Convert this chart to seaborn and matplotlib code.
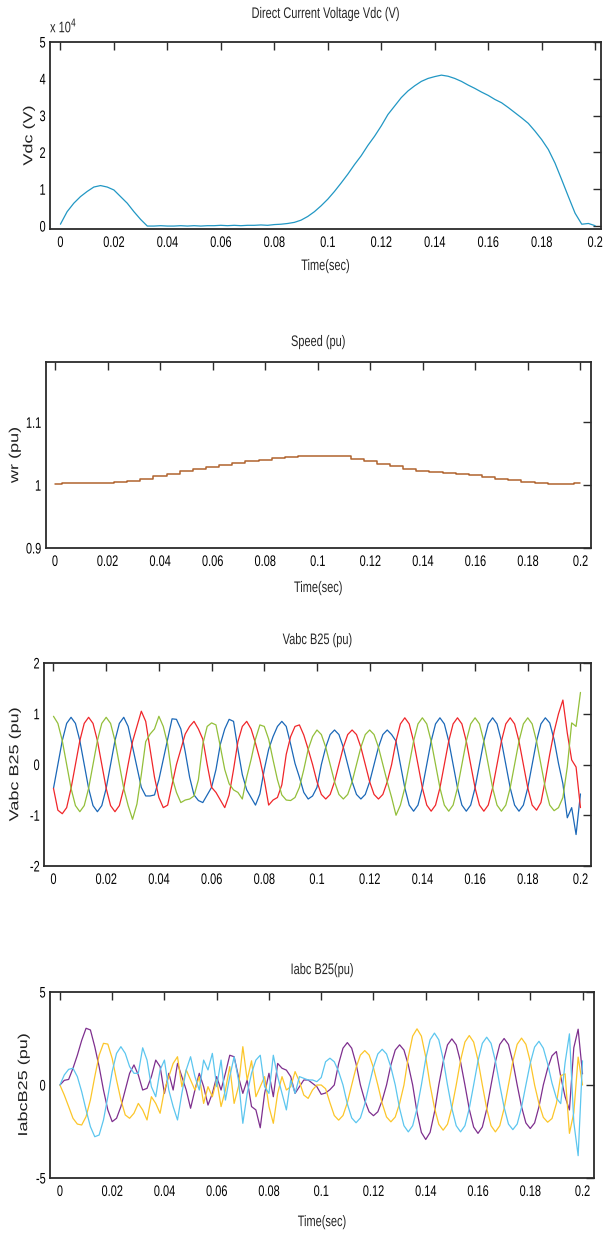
import numpy as np
import pandas as pd
import matplotlib
matplotlib.use("Agg")
import matplotlib.pyplot as plt
import seaborn as sns
from matplotlib.ticker import FuncFormatter, FixedLocator
from matplotlib.patheffects import AbstractPathEffect
from matplotlib.transforms import Affine2D

# ---------------- data ----------------
# Panel 1: DC voltage, sampled every 2.5 ms, in units of 1e4 V
vdc_step = 0.0025
vdc_1e4 = [0.05, 0.39, 0.62, 0.80, 0.94, 1.06, 1.10, 1.06, 0.98, 0.80,
           0.62, 0.39, 0.18, 0.0, 0.0, 0.01, 0.0, 0.0, 0.01, 0.0,
           0.01, 0.0, 0.01, 0.01, 0.02, 0.01, 0.02, 0.01, 0.02, 0.02,
           0.03, 0.02, 0.04, 0.05, 0.07, 0.10, 0.16, 0.26, 0.39, 0.55,
           0.73, 0.94, 1.17, 1.41, 1.67, 1.91, 2.19, 2.44, 2.72, 3.03,
           3.26, 3.49, 3.67, 3.81, 3.93, 4.01, 4.06, 4.10, 4.07, 4.01,
           3.93, 3.83, 3.74, 3.64, 3.55, 3.44, 3.35, 3.22, 3.08, 2.94,
           2.79, 2.58, 2.35, 2.08, 1.71, 1.26, 0.80, 0.35, 0.05, 0.07,
           0.01]

# Panel 2: rotor speed, sampled every 5 ms
speed_step = 0.005
speed_pu = [1.002, 1.004, 1.004, 1.004, 1.004, 1.005, 1.007, 1.010, 1.014, 1.018,
            1.022, 1.025, 1.029, 1.032, 1.035, 1.038, 1.040, 1.043, 1.045, 1.047,
            1.047, 1.047, 1.046, 1.042, 1.038, 1.034, 1.030, 1.026, 1.023, 1.021,
            1.020, 1.018, 1.016, 1.013, 1.010, 1.008, 1.005, 1.003, 1.002, 1.002,
            1.004]

# Panels 3 & 4: three-phase quantities sampled every 1/600 s
phase_step = 1.0 / 600.0
vabc_blue = [-0.47, 0.0, 0.47, 0.81, 0.93, 0.81, 0.47, 0.0, -0.47, -0.81, -0.93, -0.81,
             -0.47, 0.0, 0.47, 0.81, 0.93, 0.75, 0.35, -0.05, -0.45, -0.62, -0.62, -0.6,
             -0.3, 0.1, 0.5, 0.9, 0.89, 0.7, 0.25, -0.25, -0.6, -0.71, -0.75, -0.6,
             -0.45, -0.1, 0.4, 0.7, 0.89, 0.85, 0.3, -0.2, -0.5, -0.65, -0.8, -0.58,
             -0.1, 0.3, 0.55, 0.75, 0.85, 0.75, 0.4, 0.02, -0.25, -0.55, -0.68, -0.62,
             -0.45, 0.0, 0.34, 0.59, 0.68, 0.59, 0.34, 0.0, -0.34, -0.59, -0.68, -0.59,
             -0.34, 0.0, 0.34, 0.59, 0.68, 0.59, 0.46, 0.0, -0.46, -0.8, -0.92, -0.8,
             -0.46, 0.0, 0.46, 0.8, 0.92, 0.8, 0.46, 0.0, -0.46, -0.8, -0.92, -0.8,
             -0.46, 0.0, 0.46, 0.8, 0.92, 0.8, 0.46, 0.0, -0.46, -0.8, -0.92, -0.8,
             -0.46, 0.0, 0.46, 0.8, 0.92, 0.82, 0.49, 0.02, -0.38, -1.05, -0.85, -1.38,
             -0.58]
vabc_red = [-0.47, -0.9, -0.97, -0.85, -0.47, 0.0, 0.47, 0.81, 0.93, 0.81, 0.47, 0.0,
            -0.47, -0.81, -0.93, -0.81, -0.47, 0.0, 0.45, 0.75, 1.05, 0.85, 0.3, -0.25,
            -0.65, -0.85, -0.8, -0.4, 0.0, 0.3, 0.6, 0.75, 0.85, 0.7, 0.5, 0.0,
            -0.45, -0.55, -0.7, -0.85, -0.6, -0.1, 0.45, 0.75, 0.85, 0.7, 0.42, 0.1,
            -0.3, -0.8, -0.7, -0.65, -0.4, 0.2, 0.55, 0.75, 0.78, 0.58, 0.3, 0.0,
            -0.34, -0.59, -0.68, -0.59, -0.34, 0.0, 0.34, 0.59, 0.68, 0.59, 0.34, 0.0,
            -0.34, -0.59, -0.68, -0.59, -0.34, 0.0, 0.46, 0.8, 0.92, 0.8, 0.46, 0.0,
            -0.46, -0.8, -0.92, -0.8, -0.46, 0.0, 0.46, 0.8, 0.92, 0.8, 0.46, 0.0,
            -0.46, -0.8, -0.92, -0.8, -0.46, 0.0, 0.46, 0.8, 0.92, 0.8, 0.46, 0.0,
            -0.46, -0.8, -0.9, -0.75, -0.3, 0.2, 0.65, 1.0, 1.27, 0.62, 0.09, -0.05,
            -0.85]
vabc_green = [0.95, 0.81, 0.47, 0.0, -0.47, -0.81, -0.93, -0.81, -0.47, 0.0, 0.47, 0.81,
              0.93, 0.81, 0.47, 0.0, -0.47, -0.81, -1.08, -0.78, -0.2, 0.45, 0.6, 0.7,
              0.95, 0.75, 0.4, -0.25, -0.55, -0.75, -0.7, -0.68, -0.62, -0.3, 0.4, 0.75,
              0.82, 0.78, 0.35, -0.1, -0.38, -0.5, -0.55, -0.68, -0.25, 0.1, 0.5, 0.78,
              0.75, 0.5, 0.09, -0.3, -0.6, -0.7, -0.71, -0.65, -0.45, -0.1, 0.3, 0.55,
              0.68, 0.59, 0.34, 0.0, -0.34, -0.59, -0.68, -0.59, -0.34, 0.0, 0.34, 0.59,
              0.68, 0.59, 0.34, 0.0, -0.34, -0.65, -1.0, -0.8, -0.46, 0.0, 0.46, 0.8,
              0.92, 0.8, 0.46, 0.0, -0.46, -0.8, -0.92, -0.8, -0.46, 0.0, 0.46, 0.8,
              0.92, 0.8, 0.46, 0.0, -0.46, -0.8, -0.92, -0.8, -0.46, 0.0, 0.46, 0.8,
              0.92, 0.8, 0.46, 0.0, -0.46, -0.8, -0.91, -0.85, -0.65, -0.05, 0.82, 0.75,
              1.42]

iabc_purple = [0.0, 0.25, 0.3, 0.9, 1.6, 2.4, 3.05, 2.96, 2.06, 0.99, -0.27, -1.34,
               -1.97, -1.79, -1.16, -0.27, 0.63, 1.08, 0.54, -0.27, -0.18, 0.45, 1.34, 0.99,
               -0.45, 0.63, -0.27, 1.16, 0.45, -0.27, -1.25, -0.27, 0.63, -0.09, -1.08, -0.45,
               0.45, -0.27, 0.63, 1.6, 1.52, 0.45, -0.45, 0.27, -1.16, -1.34, -2.3, -0.45,
               0.63, -0.63, 1.16, 0.9, 0.8, 0.45, -0.45, -0.09, 0.27, 0.27, 0.09, -0.09,
               -0.5, -0.43, -0.25, 0.0, 1.14, 1.98, 2.28, 1.98, 1.14, 0.0, -0.83, -1.44,
               -1.65, -1.44, -0.83, 0.0, 1.08, 1.88, 2.16, 1.88, 1.08, 0.0, -1.47, -2.55,
               -2.93, -2.55, -1.47, 0.0, 1.24, 2.16, 2.48, 2.16, 1.24, 0.0, -1.3, -2.26,
               -2.6, -2.26, -1.3, 0.0, 1.25, 2.18, 2.5, 2.18, 1.25, 0.0, -1.17, -2.04,
               -2.34, -2.04, -1.17, 0.0, 0.9, 1.57, 1.8, 0.45, -0.63, -1.34, 2.0, 3.0,
               0.6]
iabc_yellow = [0.0, -0.54, -1.16, -1.79, -2.1, -2.15, -1.7, -0.8, 0.45, 1.6, 2.24, 2.2,
               1.43, 0.27, -0.8, -1.61, -1.79, -1.52, -0.99, -1.34, -1.88, -0.63, -0.99, -1.52,
               -0.27, 0.45, 1.16, 1.52, -0.09, 0.81, 0.27, -0.27, 0.45, -0.99, -0.09, -0.63,
               0.27, -1.16, -0.27, 0.99, -0.99, -0.09, 2.06, 0.27, 1.3, -0.63, -0.09, 0.45,
               -1.16, -2.06, -0.45, 0.45, -0.27, -0.09, 0.72, 0.18, -0.54, -0.72, -0.27, 0.0,
               0.0, -0.2, -0.95, -1.64, -1.89, -1.64, -0.95, 0.0, 0.93, 1.61, 1.85, 1.61,
               0.93, 0.0, -0.99, -1.72, -1.98, -1.72, -0.99, 0.0, 1.51, 2.63, 3.02, 2.63,
               1.51, 0.0, -1.22, -2.11, -2.43, -2.11, -1.22, 0.0, 1.33, 2.31, 2.66, 2.31,
               1.33, 0.0, -1.26, -2.19, -2.52, -2.19, -1.26, 0.0, 1.26, 2.19, 2.52, 2.19,
               1.26, 0.0, -1.0, -1.74, -2.0, -1.8, -1.0, 0.5, 0.6, -2.6, -1.5, 1.5,
               0.0]
iabc_cyan = [0.0, 0.54, 0.84, 0.9, 0.45, -0.36, -1.34, -2.24, -2.78, -2.69, -1.88, -0.63,
             0.72, 1.7, 2.06, 1.7, 0.99, 0.63, 0.63, 2.0, 1.34, -0.09, -0.63, 0.81,
             1.34, -0.27, -1.16, -1.88, -0.45, 0.81, 1.52, 0.45, -0.27, 1.34, 0.81, 1.7,
             -0.09, 1.34, -0.81, 0.45, 1.52, 0.27, -2.06, -0.45, 0.63, 1.34, 1.6, -0.09,
             -0.45, 1.6, 0.45, -0.45, -1.34, 0.27, -0.45, 0.45, 0.36, 0.27, 0.27, 0.18,
             0.4, 1.25, 1.44, 1.25, 0.72, 0.0, -1.02, -1.77, -2.03, -1.77, -1.02, 0.0,
             0.96, 1.67, 1.92, 1.67, 0.96, 0.0, -1.26, -2.19, -2.52, -2.19, -1.26, 0.0,
             1.4, 2.43, 2.79, 2.43, 1.4, 0.0, -1.26, -2.19, -2.52, -2.19, -1.26, 0.0,
             1.29, 2.24, 2.57, 2.24, 1.29, 0.0, -1.2, -2.1, -2.4, -2.1, -1.2, 0.0,
             1.17, 2.04, 2.35, 1.98, 1.14, 0.1, -0.7, -1.0, 1.2, 2.75, -2.0, -3.8,
             1.3]

x_ticks = [0, 0.02, 0.04, 0.06, 0.08, 0.1, 0.12, 0.14, 0.16, 0.18, 0.2]

titles = ["Direct Current Voltage Vdc (V)", "Speed (pu)", "Vabc B25 (pu)", "Iabc B25(pu)"]
ylabels = ["Vdc (V)", "wr (pu)", "Vabc B25 (pu)", "IabcB25 (pu)"]
xlabel = "Time(sec)"

# ---------------- style ----------------
sns.set_theme(style="white")
plt.rcParams["font.family"] = ["Liberation Sans", "DejaVu Sans"]
FS = 11
SQ = 0.72
EDGE = "#2b2b2b"


class Squeeze(AbstractPathEffect):
    """Condense glyphs (the reference text is horizontally compressed)."""

    def __init__(self, sx=1.0, sy=1.0, anchor="center"):
        super().__init__()
        self.sx, self.sy, self.anchor = sx, sy, anchor

    def draw_path(self, renderer, gc, tpath, affine, rgbFace=None):
        ext = tpath.get_extents()
        if self.anchor == "right":
            cx = ext.x1
        elif self.anchor == "left":
            cx = ext.x0
        else:
            cx = 0.5 * (ext.x0 + ext.x1)
        cy = 0.5 * (ext.y0 + ext.y1)
        tr = Affine2D().translate(-cx, -cy).scale(self.sx, self.sy).translate(cx, cy)
        renderer.draw_path(gc, tpath, tr + affine, rgbFace)


def series_frame(step, **cols):
    parts = []
    for name, vals in cols.items():
        vals = np.asarray(vals, dtype=float)
        parts.append(pd.DataFrame({"t": np.arange(len(vals)) * step,
                                   "v": vals, "s": name}))
    return pd.concat(parts, ignore_index=True)


fig = plt.figure(figsize=(6.04, 12.35), dpi=100)
W, H = 604.0, 1235.0


def make_axes(left, right, top, bottom):
    return fig.add_axes([left / W, 1 - bottom / H, (right - left) / W, (bottom - top) / H])


def style_axes(ax, xlim, ylim, yticks, yfmt, title, title_y, ylab, ylab_x, xlab_y):
    ax.set_xlim(*xlim)
    ax.set_ylim(*ylim)
    ax.xaxis.set_major_locator(FixedLocator(x_ticks))
    ax.yaxis.set_major_locator(FixedLocator(yticks))
    ax.xaxis.set_major_formatter(FuncFormatter(lambda v, p: f"{v:g}"))
    ax.yaxis.set_major_formatter(yfmt)
    ax.tick_params(direction="in", top=True, right=True, length=5.5, width=1.0,
                   color=EDGE, labelsize=FS, labelcolor="black")
    ax.tick_params(axis="x", pad=5)
    ax.tick_params(axis="y", pad=3)
    for sp in ax.spines.values():
        sp.set_color(EDGE)
        sp.set_linewidth(1.3)
    ax.set_title(title, fontsize=FS, y=title_y, pad=0, va="center")
    ax.set_ylabel(ylab, fontsize=13, color="#222222")
    ax.yaxis.label.set_va("center")
    ax.yaxis.set_label_coords(ylab_x, 0.5)
    if xlab_y is not None:
        ax.set_xlabel(xlabel, fontsize=FS)
        ax.xaxis.label.set_va("center")
        ax.xaxis.set_label_coords(0.5, xlab_y)
    else:
        ax.set_xlabel("")


gfmt = FuncFormatter(lambda v, p: f"{v:g}")

# ---- Panel 1: Vdc ----
ax1 = make_axes(50, 601, 42, 229)
df1 = series_frame(vdc_step, vdc=np.asarray(vdc_1e4) * 1e4)
sns.lineplot(data=df1, x="t", y="v", color="#2197c4", linewidth=0.9,
             estimator=None, sort=False, ax=ax1)
style_axes(ax1, (-0.0039, 0.2022), (-800, 50000), [0, 1e4, 2e4, 3e4, 4e4, 5e4],
           FuncFormatter(lambda v, p: f"{v / 1e4:g}"), titles[0], 1.15,
           ylabels[0], -0.038, -0.198)
offset_txt = fig.text(50 / W, 1 - 26 / H, "x 10$^{4}$", fontsize=FS, ha="left", va="center")

# ---- Panel 2: Speed ----
ax2 = make_axes(45.5, 591, 362, 548)
df2 = series_frame(speed_step, wr=speed_pu)
sns.lineplot(data=df2, x="t", y="v", color="#b0632e", linewidth=1.1,
             estimator=None, sort=False, drawstyle="steps-mid", ax=ax2)
style_axes(ax2, (-0.0036, 0.2040), (0.9, 1.196), [0.9, 1.0, 1.1], gfmt,
           titles[1], 1.1075, ylabels[1], -0.056, -0.215)

# ---- Panel 3: Vabc ----
ax3 = make_axes(44, 591, 663, 866)
df3 = series_frame(phase_step, a=vabc_blue, b=vabc_red, c=vabc_green)
sns.lineplot(data=df3, x="t", y="v", hue="s", hue_order=["a", "b", "c"],
             palette={"a": "#1b68b8", "b": "#f0262a", "c": "#93bf3a"},
             linewidth=0.9, estimator=None, sort=False, legend=False, ax=ax3)
style_axes(ax3, (-0.0036, 0.2040), (-2, 2), [-2, -1, 0, 1, 2], gfmt,
           titles[2], 1.113, ylabels[2], -0.053, None)

# ---- Panel 4: Iabc ----
ax4 = make_axes(50, 594, 992, 1178)
df4 = series_frame(phase_step, a=iabc_purple, b=iabc_yellow, c=iabc_cyan)
sns.lineplot(data=df4, x="t", y="v", hue="s", hue_order=["a", "b", "c"],
             palette={"a": "#7e2f8e", "b": "#fcc62a", "c": "#5cc6ef"},
             linewidth=0.9, estimator=None, sort=False, legend=False, ax=ax4)
style_axes(ax4, (-0.0038, 0.2044), (-5, 5), [-5, 0, 5], gfmt,
           titles[3], 1.118, ylabels[3], -0.048, -0.237)

# condensed lettering like the reference
fig.canvas.draw()
for ax in (ax1, ax2, ax3, ax4):
    for lbl in ax.get_xticklabels():
        lbl.set_path_effects([Squeeze(SQ, 1.0, "center")])
    for lbl in ax.get_yticklabels():
        lbl.set_path_effects([Squeeze(SQ, 1.0, "right")])
    ax.title.set_path_effects([Squeeze(SQ, 1.0, "center")])
    ax.xaxis.label.set_path_effects([Squeeze(SQ, 1.0, "center")])
    ax.yaxis.label.set_path_effects([Squeeze(1.0, SQ, "center")])
offset_txt.set_path_effects([Squeeze(SQ, 1.0, "left")])

fig.savefig("out.png", dpi=100, facecolor="white")
